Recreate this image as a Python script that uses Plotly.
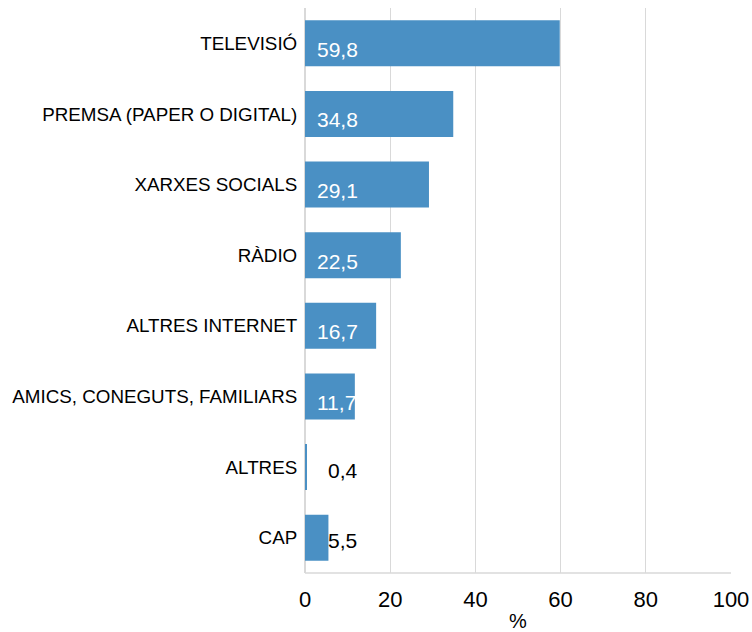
import plotly.graph_objects as go

categories = ["TELEVISIÓ", "PREMSA (PAPER O DIGITAL)", "XARXES SOCIALS", "RÀDIO",
              "ALTRES INTERNET", "AMICS, CONEGUTS, FAMILIARS", "ALTRES", "CAP"]
values = [59.8, 34.8, 29.1, 22.5, 16.7, 11.7, 0.4, 5.5]
value_labels = ["59,8", "34,8", "29,1", "22,5", "16,7", "11,7", "0,4", "5,5"]
tick_vals = [0, 20, 40, 60, 80, 100]

FONT = "Liberation Sans, Arial, sans-serif"

fig = go.Figure()
fig.add_trace(go.Bar(
    y=categories, x=values, orientation="h",
    marker=dict(color="#4a90c4", line=dict(width=0)),
    hoverinfo="skip",
))

for cat, v, lab in zip(categories, values, value_labels):
    outside = v < 8
    fig.add_annotation(
        x=0, y=cat, xref="x", yref="y", text=lab, showarrow=False,
        xanchor="left", yanchor="middle",
        xshift=21 if outside else 10, yshift=-3 if outside else -6,
        font=dict(family=FONT, size=21, color="#000000" if outside else "white"),
    )

fig.update_layout(
    width=752, height=632,
    margin=dict(l=305, r=21, t=8, b=59),
    plot_bgcolor="white", paper_bgcolor="white",
    bargap=0.35, showlegend=False,
    font=dict(family=FONT, color="#000000"),
)
fig.update_xaxes(
    range=[0, 100], tickvals=tick_vals, ticktext=[str(t) for t in tick_vals],
    showgrid=True, gridcolor="#d9d9d9", gridwidth=1,
    zeroline=True, zerolinecolor="#d9d9d9", zerolinewidth=1,
    showline=False, ticks="", tickfont=dict(size=22), ticklabelstandoff=11,
    title=dict(text="%", font=dict(size=20), standoff=8),
    automargin=False,
)
fig.update_yaxes(
    categoryorder="array", categoryarray=categories, autorange="reversed",
    showgrid=False, zeroline=False, ticks="", ticklabelstandoff=3,
    showline=True, linecolor="#d9d9d9", mirror=False,
    tickfont=dict(size=18.8), automargin=False,
)
fig.add_shape(type="line", xref="paper", yref="paper", x0=0, x1=1, y0=0, y1=0,
              line=dict(color="#d9d9d9", width=1.5))

fig.write_html(
    "out.html",
    config={"displayModeBar": False},
    post_script="document.body.style.margin='0';"
                "document.documentElement.style.overflow='hidden';"
                "document.body.style.overflow='hidden';",
)
